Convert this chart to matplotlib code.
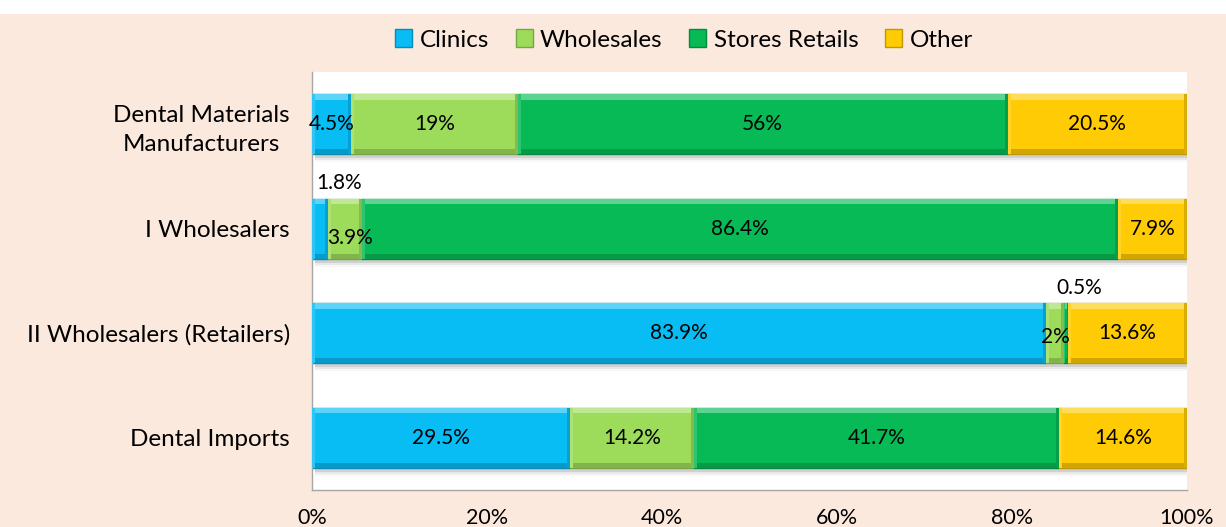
import matplotlib.pyplot as plt
from matplotlib.patches import Rectangle
from matplotlib.colors import to_rgb
import numpy as np

plt.rcParams['font.family'] = ['Lato', 'DejaVu Sans']

categories = ["Dental Materials\nManufacturers", "I Wholesalers",
              "II Wholesalers (Retailers)", "Dental Imports"]
series = ["Clinics", "Wholesales", "Stores Retails", "Other"]
clinics = [4.5, 1.8, 83.9, 29.5]
wholesales = [19.0, 3.9, 2.0, 14.2]
stores_retails = [56.0, 86.4, 0.5, 41.7]
other = [20.5, 7.9, 13.6, 14.6]
x_ticks = [0, 20, 40, 60, 80, 100]
x_tick_labels = ["0%", "20%", "40%", "60%", "80%", "100%"]

colors = ["#08BCF4", "#9DDC5A", "#07BA55", "#FFCB05"]
values = [clinics, wholesales, stores_retails, other]


def shade(c, f):
    r = np.array(to_rgb(c))
    if f > 0:
        return tuple(r + (1 - r) * f)
    return tuple(r * (1 + f))


fig = plt.figure(figsize=(12.26, 5.27), dpi=100)
fig.patch.set_facecolor("#FBE9DD")
# white band across the top edge
fig.add_artist(Rectangle((0, 1 - 14 / 527), 1, 14 / 527, transform=fig.transFigure,
                         facecolor="white", edgecolor="none", zorder=0))

ax = fig.add_axes([312 / 1226, 1 - 490 / 527, 875 / 1226, 418 / 527])
ax.set_facecolor("white")

y = np.arange(len(categories))
h = 0.57
left = np.zeros(len(categories))

# soft shadow under each bar
for yi in y:
    for k, a in enumerate([0.10, 0.06, 0.03]):
        ax.add_patch(Rectangle((0.3, yi - h / 2 + 0.02), 100, h + 0.02 * (k + 1),
                               facecolor="black", alpha=a, edgecolor="none", zorder=1))

bars = []
for vals, col, name in zip(values, colors, series):
    b = ax.barh(y, vals, left=left, height=h, color=col, edgecolor=shade(col, -0.25),
                linewidth=1.0, label=name, zorder=2)
    bars.append(b)
    # bevel highlights and shading
    for yi, l, v in zip(y, left, vals):
        top = yi - h / 2
        bot = yi + h / 2
        ax.add_patch(Rectangle((l, top), v, 0.05, facecolor=shade(col, 0.35),
                               edgecolor="none", zorder=3))
        ax.add_patch(Rectangle((l, bot - 0.045), v, 0.045, facecolor=shade(col, -0.18),
                               edgecolor="none", zorder=3))
        ew = min(0.35, v * 0.2)
        ax.add_patch(Rectangle((l + v - ew, top), ew, h, facecolor=shade(col, -0.15),
                               edgecolor="none", zorder=3))
        ax.add_patch(Rectangle((l, top), ew, h, facecolor=shade(col, 0.15),
                               edgecolor="none", zorder=3))
    left = left + np.array(vals)

fs_txt = 17.5
fs_num = 15

# value labels
left = np.zeros(len(categories))
for si, vals in enumerate(values):
    for ci, v in enumerate(vals):
        cx = left[ci] + v / 2
        txt = f"{v:g}%"
        dx, dy = 0, 0
        if v < 1.0:
            ax.annotate(txt, (cx, ci - h / 2), xytext=(10, 4), textcoords="offset points",
                        ha="center", va="bottom", fontsize=fs_num, zorder=5)
            continue
        if v < 2.0:
            ax.annotate(txt, (left[ci], ci - h / 2), xytext=(3, 4), textcoords="offset points",
                        ha="left", va="bottom", fontsize=fs_num, zorder=5)
            continue
        if v < 4.0 and ci == 1:
            dx, dy = 4, -7
        elif v <= 2.0:
            dy = -3
        ax.annotate(txt, (cx, ci), xytext=(dx, dy), textcoords="offset points",
                    ha="center", va="center", fontsize=fs_num, zorder=5)
    left = left + np.array(vals)

ax.set_xlim(0, 100)
ax.set_ylim(len(categories) - 0.5, -0.5)
ax.set_yticks(y)
ax.set_yticklabels(categories, fontsize=fs_txt, multialignment="center", linespacing=1.45)
ax.set_xticks(x_ticks)
ax.set_xticklabels(x_tick_labels, fontsize=15.5)
ax.tick_params(axis="both", length=0)
ax.tick_params(axis="y", pad=16)
ax.tick_params(axis="x", pad=13)
for s in ["top", "right"]:
    ax.spines[s].set_visible(False)
for s in ["left", "bottom"]:
    ax.spines[s].set_color("#A6A6A6")
    ax.spines[s].set_linewidth(1.0)

leg = fig.legend(handles=bars, labels=series, loc="center", bbox_to_anchor=(684 / 1226, 1 - 40 / 527),
                 ncol=4, frameon=False, fontsize=fs_txt, handlelength=0.7, handleheight=0.7,
                 handletextpad=0.3, columnspacing=1.1)

fig.savefig("out.png", dpi=100, facecolor=fig.get_facecolor())
